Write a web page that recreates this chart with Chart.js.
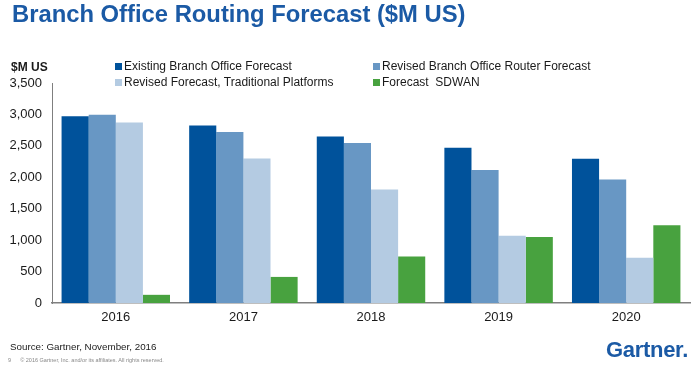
<!DOCTYPE html>
<html>
<head>
<meta charset="utf-8">
<script src="https://cdn.jsdelivr.net/npm/chart.js@4/dist/chart.umd.min.js"></script>
<style>
  html, body { margin: 0; padding: 0; background: #fff; }
  #wrap { position: relative; width: 700px; height: 372px; overflow: hidden; font-family: "Liberation Sans", Arial, sans-serif; }
  #c { position: absolute; left: 0; top: 0; }
  .t { position: absolute; white-space: pre; }
  #title { left: 12px; top: 0px; font-size: 23.8px; font-weight: bold; color: #1b5aa5; }
  #unit { left: 11px; top: 60px; font-size: 12px; font-weight: bold; color: #1a1a1a; }
  .lg { position: absolute; font-size: 12px; color: #1a1a1a; white-space: pre; line-height: 14px; }
  .lg span.sq { display: inline-block; width: 7px; height: 7px; margin-right: 2px; vertical-align: 0px; }
  #src { left: 10px; top: 341px; font-size: 9.8px; color: #222; }
  #copy { left: 8px; top: 357px; font-size: 5.5px; color: #888; }
  #logo { left: 606px; top: 337px; font-size: 22px; font-weight: bold; color: #1b5aa5; letter-spacing: -0.3px; }
</style>
</head>
<body>
<div id="wrap">
  <canvas id="c" width="700" height="372"></canvas>
  <div class="t" id="title">Branch Office Routing Forecast ($M US)</div>
  <div class="t" id="unit">$M US</div>
  <div id="legend"></div>
  <div class="t" id="src">Source: Gartner, November, 2016</div>
  <div class="t" id="copy">9      © 2016 Gartner, Inc. and/or its affiliates. All rights reserved.</div>
  <div class="t" id="logo">Gartner.</div>
</div>
<script>
const categories = ["2016", "2017", "2018", "2019", "2020"];
const seriesNames = [
  "Existing Branch Office Forecast",
  "Revised Branch Office Router Forecast",
  "Revised Forecast, Traditional Platforms",
  "Forecast  SDWAN"
];
const existingForecast = [2970, 2825, 2650, 2470, 2295];
const revisedRouterForecast = [2995, 2720, 2545, 2115, 1965];
const traditionalPlatforms = [2870, 2300, 1805, 1070, 720];
const sdwanForecast = [130, 415, 740, 1050, 1235];
const yTicks = [0, 500, 1000, 1500, 2000, 2500, 3000, 3500];

const colors = ["#00529b", "#6897c4", "#b4cbe2", "#48a23f"];
const seriesValues = [existingForecast, revisedRouterForecast, traditionalPlatforms, sdwanForecast];

// HTML legend built from series names/colors
const legendPos = [[115, 59], [373, 59], [115, 75], [373, 75]];
const legendEl = document.getElementById('legend');
seriesNames.forEach((name, i) => {
  const d = document.createElement('div');
  d.className = 'lg';
  d.style.left = legendPos[i][0] + 'px';
  d.style.top = legendPos[i][1] + 'px';
  d.innerHTML = '<span class="sq" style="background:' + colors[i] + '"></span>';
  d.appendChild(document.createTextNode(name));
  legendEl.appendChild(d);
});

new Chart(document.getElementById('c'), {
  type: 'bar',
  data: {
    labels: categories,
    datasets: seriesNames.map((name, i) => ({
      label: name,
      data: seriesValues[i],
      backgroundColor: colors[i],
      borderWidth: 0,
      barPercentage: 1.0,
      categoryPercentage: 0.85
    }))
  },
  options: {
    responsive: false,
    animation: false,
    devicePixelRatio: 1,
    layout: { padding: { left: 0, right: 10, top: 83, bottom: 44 } },
    plugins: { legend: { display: false }, tooltip: { enabled: false }, title: { display: false } },
    scales: {
      x: {
        grid: { display: false, drawTicks: false },
        border: { display: true, color: '#7f7f7f', width: 1.5 },
        ticks: { color: '#1a1a1a', font: { family: 'Liberation Sans', size: 13 }, padding: 7 },
        afterFit: s => { s.height = 25; }
      },
      y: {
        min: 0, max: 3500,
        afterBuildTicks: s => { s.ticks = yTicks.map(v => ({ value: v })); },
        grid: { display: false, drawTicks: false },
        border: { display: true, color: '#7f7f7f', width: 1 },
        ticks: {
          color: '#1a1a1a', font: { family: 'Liberation Sans', size: 13 }, padding: 10,
          callback: v => Number(v).toLocaleString('en-US')
        },
        afterFit: s => { s.width = 52; }
      }
    }
  }
});
</script>
</body>
</html>
